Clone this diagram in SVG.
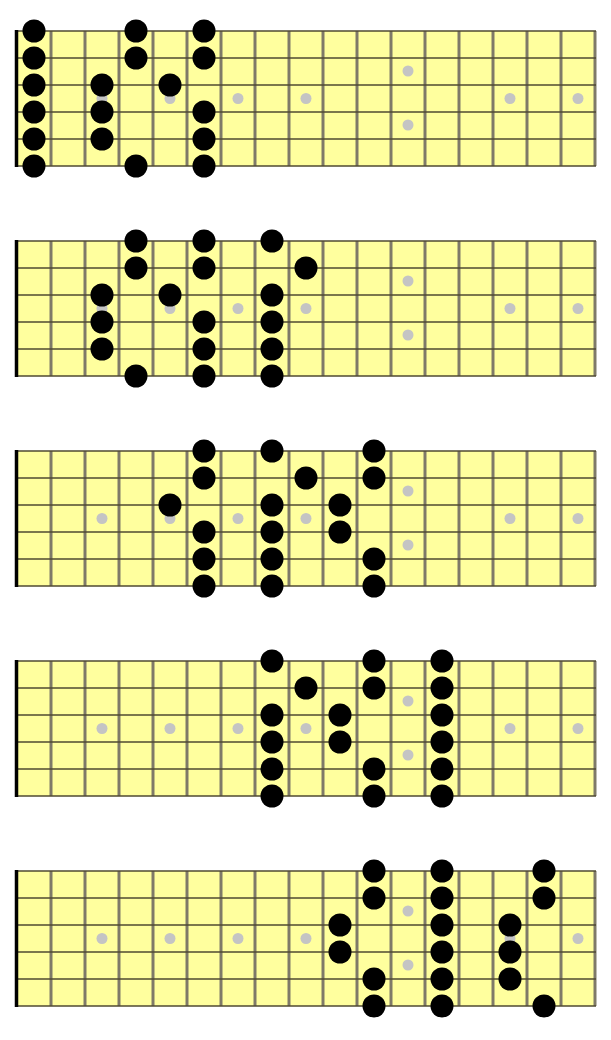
<svg xmlns="http://www.w3.org/2000/svg" xmlns:xlink="http://www.w3.org/1999/xlink" width="611" height="1040" viewBox="0 0 611 1040">
<style>
.board{fill:#ffff9e}
.fret{stroke:#7f7a68;stroke-width:3}
.str{stroke:#4f4a30;stroke-width:1.6}
.nut{stroke:#000;stroke-width:3.5}
.mk{fill:#c4c4c4}
.n{fill:#000}
</style>
<defs>
<g id="fb">
<rect class="board" x="17" y="31" width="578" height="135"/>
<g class="fret">
<line x1="51" y1="31" x2="51" y2="166"/><line x1="85" y1="31" x2="85" y2="166"/><line x1="119" y1="31" x2="119" y2="166"/><line x1="153" y1="31" x2="153" y2="166"/><line x1="187" y1="31" x2="187" y2="166"/><line x1="221" y1="31" x2="221" y2="166"/><line x1="255" y1="31" x2="255" y2="166"/><line x1="289" y1="31" x2="289" y2="166"/><line x1="323" y1="31" x2="323" y2="166"/><line x1="357" y1="31" x2="357" y2="166"/><line x1="391" y1="31" x2="391" y2="166"/><line x1="425" y1="31" x2="425" y2="166"/><line x1="459" y1="31" x2="459" y2="166"/><line x1="493" y1="31" x2="493" y2="166"/><line x1="527" y1="31" x2="527" y2="166"/><line x1="561" y1="31" x2="561" y2="166"/><line x1="595" y1="31" x2="595" y2="166"/>
</g>
<g class="str">
<line x1="17" y1="31" x2="596" y2="31"/><line x1="17" y1="58" x2="596" y2="58"/><line x1="17" y1="85" x2="596" y2="85"/><line x1="17" y1="112" x2="596" y2="112"/><line x1="17" y1="139" x2="596" y2="139"/><line x1="17" y1="166" x2="596" y2="166"/>
</g>
<line class="nut" x1="16.5" y1="30" x2="16.5" y2="167"/>
<g class="mk">
<circle cx="102" cy="98.5" r="5.5"/><circle cx="170" cy="98.5" r="5.5"/><circle cx="238" cy="98.5" r="5.5"/><circle cx="306" cy="98.5" r="5.5"/><circle cx="408" cy="71" r="5.5"/><circle cx="408" cy="125" r="5.5"/><circle cx="510" cy="98.5" r="5.5"/><circle cx="578" cy="98.5" r="5.5"/>
</g>
</g>
<circle id="d" r="11.5" class="n"/>
</defs>
<g id="board1">
<use xlink:href="#fb"/>
<g>
<use xlink:href="#d" x="34" y="31"/><use xlink:href="#d" x="34" y="58"/><use xlink:href="#d" x="34" y="85"/><use xlink:href="#d" x="34" y="112"/><use xlink:href="#d" x="34" y="139"/><use xlink:href="#d" x="34" y="166"/>
<use xlink:href="#d" x="102" y="85"/><use xlink:href="#d" x="102" y="112"/><use xlink:href="#d" x="102" y="139"/>
<use xlink:href="#d" x="136" y="31"/><use xlink:href="#d" x="136" y="58"/><use xlink:href="#d" x="136" y="166"/>
<use xlink:href="#d" x="170" y="85"/>
<use xlink:href="#d" x="204" y="31"/><use xlink:href="#d" x="204" y="58"/><use xlink:href="#d" x="204" y="112"/><use xlink:href="#d" x="204" y="139"/><use xlink:href="#d" x="204" y="166"/>
</g>
</g>
<g id="board2" transform="translate(0,210)">
<use xlink:href="#fb"/>
<g>
<use xlink:href="#d" x="102" y="85"/><use xlink:href="#d" x="102" y="112"/><use xlink:href="#d" x="102" y="139"/>
<use xlink:href="#d" x="136" y="31"/><use xlink:href="#d" x="136" y="58"/><use xlink:href="#d" x="136" y="166"/>
<use xlink:href="#d" x="170" y="85"/>
<use xlink:href="#d" x="204" y="31"/><use xlink:href="#d" x="204" y="58"/><use xlink:href="#d" x="204" y="112"/><use xlink:href="#d" x="204" y="139"/><use xlink:href="#d" x="204" y="166"/>
<use xlink:href="#d" x="272" y="31"/><use xlink:href="#d" x="272" y="85"/><use xlink:href="#d" x="272" y="112"/><use xlink:href="#d" x="272" y="139"/><use xlink:href="#d" x="272" y="166"/>
<use xlink:href="#d" x="306" y="58"/>
</g>
</g>
<g id="board3" transform="translate(0,420)">
<use xlink:href="#fb"/>
<g>
<use xlink:href="#d" x="170" y="85"/>
<use xlink:href="#d" x="204" y="31"/><use xlink:href="#d" x="204" y="58"/><use xlink:href="#d" x="204" y="112"/><use xlink:href="#d" x="204" y="139"/><use xlink:href="#d" x="204" y="166"/>
<use xlink:href="#d" x="272" y="31"/><use xlink:href="#d" x="272" y="85"/><use xlink:href="#d" x="272" y="112"/><use xlink:href="#d" x="272" y="139"/><use xlink:href="#d" x="272" y="166"/>
<use xlink:href="#d" x="306" y="58"/>
<use xlink:href="#d" x="340" y="85"/><use xlink:href="#d" x="340" y="112"/>
<use xlink:href="#d" x="374" y="31"/><use xlink:href="#d" x="374" y="58"/><use xlink:href="#d" x="374" y="139"/><use xlink:href="#d" x="374" y="166"/>
</g>
</g>
<g id="board4" transform="translate(0,630)">
<use xlink:href="#fb"/>
<g>
<use xlink:href="#d" x="272" y="31"/><use xlink:href="#d" x="272" y="85"/><use xlink:href="#d" x="272" y="112"/><use xlink:href="#d" x="272" y="139"/><use xlink:href="#d" x="272" y="166"/>
<use xlink:href="#d" x="306" y="58"/>
<use xlink:href="#d" x="340" y="85"/><use xlink:href="#d" x="340" y="112"/>
<use xlink:href="#d" x="374" y="31"/><use xlink:href="#d" x="374" y="58"/><use xlink:href="#d" x="374" y="139"/><use xlink:href="#d" x="374" y="166"/>
<use xlink:href="#d" x="442" y="31"/><use xlink:href="#d" x="442" y="58"/><use xlink:href="#d" x="442" y="85"/><use xlink:href="#d" x="442" y="112"/><use xlink:href="#d" x="442" y="139"/><use xlink:href="#d" x="442" y="166"/>
</g>
</g>
<g id="board5" transform="translate(0,840)">
<use xlink:href="#fb"/>
<g>
<use xlink:href="#d" x="340" y="85"/><use xlink:href="#d" x="340" y="112"/>
<use xlink:href="#d" x="374" y="31"/><use xlink:href="#d" x="374" y="58"/><use xlink:href="#d" x="374" y="139"/><use xlink:href="#d" x="374" y="166"/>
<use xlink:href="#d" x="442" y="31"/><use xlink:href="#d" x="442" y="58"/><use xlink:href="#d" x="442" y="85"/><use xlink:href="#d" x="442" y="112"/><use xlink:href="#d" x="442" y="139"/><use xlink:href="#d" x="442" y="166"/>
<use xlink:href="#d" x="510" y="85"/><use xlink:href="#d" x="510" y="112"/><use xlink:href="#d" x="510" y="139"/>
<use xlink:href="#d" x="544" y="31"/><use xlink:href="#d" x="544" y="58"/><use xlink:href="#d" x="544" y="166"/>
</g>
</g>
<g id="connectors"/>
</svg>
